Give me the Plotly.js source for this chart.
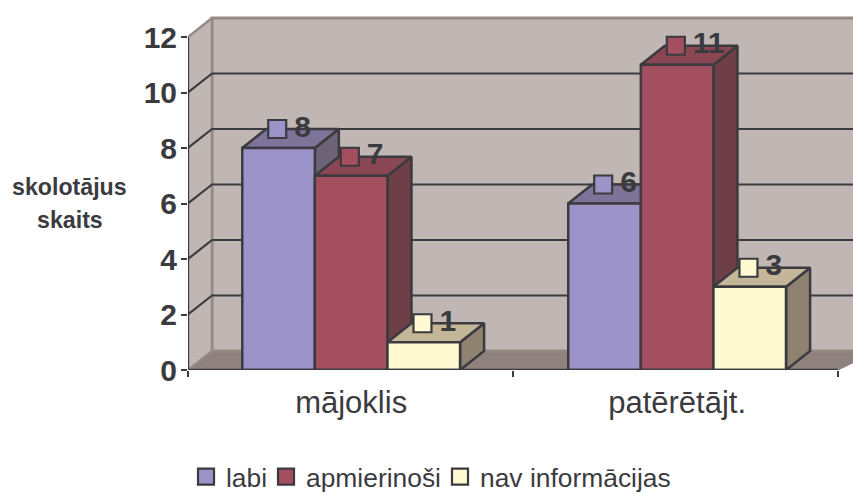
<!DOCTYPE html>
<html>
<head>
<meta charset="utf-8">
<script src="https://cdn.plot.ly/plotly-3.0.1.min.js"></script>
<style>html,body{margin:0;padding:0;background:#fff}#c{width:853px;height:493px}</style>
</head>
<body>
<div id="c"></div>
<script>
const categories = ["mājoklis", "patērētājt."];
const categoryCenters = [0.502, 1.505];
const seriesNames = ["labi", "apmierinoši", "nav informācijas"];
const labi = [8, 6];
const apmierinosi = [7, 11];
const navInformacijas = [1, 3];
const yTicks = [0, 2, 4, 6, 8, 10, 12];
const yTitleLines = ["skolotājus", "skaits"];

const seriesValues = [labi, apmierinosi, navInformacijas];
const frontColors = ["#9C94C8", "#A44F5F", "#FFFAD2"];
const topColors = ["#7E7399", "#8A4753", "#C4B698"];
const sideColors = ["#6E6277", "#6F3F48", "#8F8270"];
const dark = "#3B3B3F";
const wallColor = "#C0B7B4";
const wallEdge = "#968A85";
const floorColor = "#8F817D";
const fontFamily = "Liberation Sans, Arial, sans-serif";

// layout scale
const pxPerCat = 325, pxPerUnit = 27.75;
const L = 188, T = 0, B = 123, W = 853, H = 493;
const plotW = W - L, plotH = H - B - T;
const xMax = plotW / pxPerCat, yMax = plotH / pxPerUnit;
const dx = 24 / pxPerCat, dy = 19 / pxPerUnit;
const barW = 0.2235;

function poly(xs, ys, fill, lineColor, lw) {
  return {x: [...xs, xs[0]], y: [...ys, ys[0]], mode: "lines", fill: "toself", fillcolor: fill,
    line: {color: lineColor, width: lw}, hoverinfo: "skip", showlegend: false, type: "scatter", cliponaxis: true};
}
function seg(xs, ys, color, lw, axes, clip) {
  return Object.assign({x: xs, y: ys, mode: "lines", line: {color: color, width: lw}, hoverinfo: "skip",
    showlegend: false, type: "scatter", cliponaxis: clip !== false}, axes || {});
}

const traces = [];
// floor + walls
const yTop = yTicks[yTicks.length - 1];
traces.push(poly([0, dx, xMax + dx, 2], [0, dy, dy, 0], floorColor, floorColor, 1));
traces.push(poly([dx, xMax + 1, xMax + 1, dx], [dy, dy, yTop + dy, yTop + dy], wallColor, wallEdge, 3));
traces.push(poly([0, dx, dx, 0], [0, dy, yTop + dy, yTop], wallColor, wallEdge, 2.5));
// gridlines
yTicks.slice(1, -1).forEach(v => {
  traces.push(seg([0, dx, xMax + 1], [v, v + dy, v + dy], dark, 2.2));
});
// depth faces, painted left to right
categoryCenters.forEach((c, ci) => {
  seriesValues.forEach((vals, si) => {
    const v = vals[ci];
    const x0 = c + (si - 1.5) * barW, x1 = x0 + barW;
    traces.push(poly([x1, x1 + dx, x1 + dx, x1], [0, dy, v + dy, v], sideColors[si], dark, 2.5));
    traces.push(poly([x0, x1, x1 + dx, x0 + dx], [v, v, v + dy, v + dy], topColors[si], dark, 2.5));
  });
});
const over = {xaxis: "x2", yaxis: "y2"};
// front faces
seriesValues.forEach((vals, si) => {
  traces.push(Object.assign({type: "bar", x: categoryCenters, y: vals, name: seriesNames[si],
    marker: {color: frontColors[si], line: {color: dark, width: 2.5}}, showlegend: false, hoverinfo: "skip"}, over));
});
// axis lines
traces.push(seg([0, 0], [0, yTop], dark, 2.2, over, false));
traces.push(seg([0, 2], [0, 0], dark, 2.5, over, false));
// value markers and labels
const legendIds = ["legend", "legend2", "legend3"];
seriesValues.forEach((vals, si) => {
  const xs = categoryCenters.map(c => c + (si - 1) * barW - 0.004);
  traces.push(Object.assign({type: "scatter", mode: "markers", x: xs, y: vals.map(v => v + dy), name: seriesNames[si],
    legend: legendIds[si],
    marker: {symbol: "square", size: 18, color: frontColors[si], line: {color: dark, width: 2.2}},
    hoverinfo: "skip", cliponaxis: false}, over));
  traces.push(Object.assign({type: "scatter", mode: "text", x: xs.map(x => x + 17 / pxPerCat), y: vals.map(v => v + dy),
    text: vals.map(String), textposition: "middle right", showlegend: false, hoverinfo: "skip", cliponaxis: false,
    textfont: {family: fontFamily, size: 30, color: dark, weight: 700}}, over));
});

function legendAt(leftPx) {
  return {orientation: "h", x: (leftPx - L) / plotW, xanchor: "left", y: (plotH - 477) / plotH, yanchor: "middle",
    itemsizing: "trace", bgcolor: "rgba(0,0,0,0)",
    font: {family: fontFamily, size: 26.4, color: dark}};
}

const layout = {
  width: W, height: H, margin: {l: L, r: 0, t: T, b: B, pad: 0, autoexpand: false},
  paper_bgcolor: "#fff", plot_bgcolor: "rgba(0,0,0,0)",
  barmode: "group", bargap: 0.332, bargroupgap: 0,
  showlegend: true,
  legend: legendAt(186), legend2: legendAt(266), legend3: legendAt(440),
  xaxis: {range: [0, xMax], tickmode: "array", tickvals: categoryCenters, ticktext: categories,
    ticks: "outside", ticklen: 5, tickcolor: "rgba(0,0,0,0)", showgrid: false, zeroline: false, showline: false,
    tickfont: {family: fontFamily, size: 31, color: dark}},
  yaxis: {range: [0, yMax], tickmode: "array", tickvals: yTicks, ticks: "outside", ticklen: 6, tickwidth: 2,
    tickcolor: dark, showgrid: false, zeroline: false, showline: false, ticklabelstandoff: -2,
    tickfont: {family: fontFamily, size: 30, color: dark, weight: 700}},
  xaxis2: {overlaying: "x", anchor: "y2", side: "bottom", range: [0, xMax], tickmode: "array", tickvals: [0, 1, 2],
    ticks: "outside", ticklen: 6, tickwidth: 2, tickcolor: dark, showticklabels: false, showgrid: false,
    zeroline: false, showline: false},
  yaxis2: {overlaying: "y", anchor: "x2", range: [0, yMax], showticklabels: false, ticks: "", showgrid: false,
    zeroline: false, showline: false},
  annotations: yTitleLines.map((t, i) => ({xref: "paper", yref: "paper", x: (70 - L) / plotW,
    y: (plotH - (187 + 32.5 * i)) / plotH, xanchor: "center", yanchor: "middle",
    text: t, showarrow: false, font: {family: fontFamily, size: 23.2, color: dark, weight: 700}}))
};
Plotly.newPlot("c", traces, layout, {displayModeBar: false, staticPlot: true});
</script>
</body>
</html>
